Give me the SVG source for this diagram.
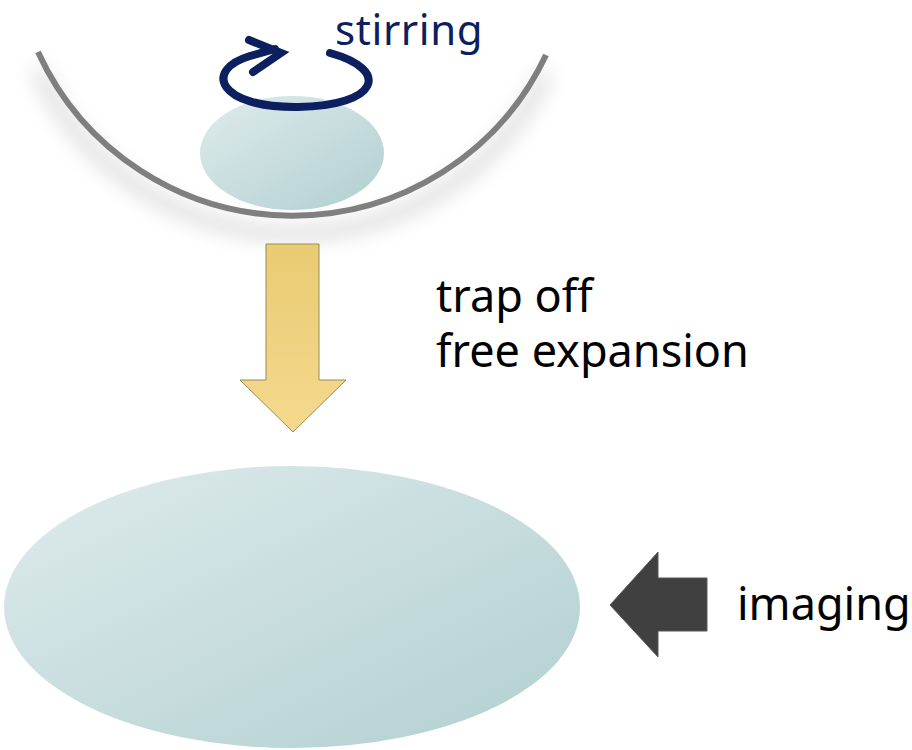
<svg xmlns="http://www.w3.org/2000/svg" width="912" height="750" viewBox="0 0 912 750">
<defs>
<style>
.lbl{font-family:"Noto Sans","Open Sans","Liberation Sans",sans-serif;font-size:45px;fill:#000}
.cloud{stroke:none}
</style>
<linearGradient id="gCloud" x1="0" y1="0" x2="1" y2="1">
<stop offset="0" stop-color="#dfebec"/>
<stop offset="1" stop-color="#b1cfd0"/>
</linearGradient>
<linearGradient id="gYel" x1="0" y1="0" x2="0" y2="1">
<stop offset="0" stop-color="#e9cb72"/>
<stop offset="1" stop-color="#f5d98e"/>
</linearGradient>
<filter id="blur" x="-20%" y="-20%" width="140%" height="160%">
<feGaussianBlur stdDeviation="10"/>
</filter>
</defs>
<g id="trap">
<path d="M38,56 A280,280 0 0 0 546,59" fill="none" stroke="#000" stroke-opacity="0.16" stroke-width="12" filter="url(#blur)" transform="translate(0,14)"/>
<path d="M38,52 A280,280 0 0 0 546,55" fill="none" stroke="#7f7f7f" stroke-width="6"/>
</g>
<g id="cloud-small">
<ellipse class="cloud" cx="292" cy="153" rx="92" ry="57" fill="url(#gCloud)"/>
</g>
<g id="stirring">
<path d="M330,53 C392,70 378,106 298,107 C218,108 203,70 250,56 L275,49" fill="none" stroke="#0c1f5e" stroke-width="8" stroke-linecap="round"/>
<path d="M249,40 L281,53 L253,72" fill="none" stroke="#0c1f5e" stroke-width="8" stroke-linecap="round" stroke-linejoin="miter"/>
<text x="335" y="45" style="font-family:'Noto Sans','Open Sans','Liberation Sans',sans-serif;font-size:42px;letter-spacing:0.6px;fill:#0c1f5e">stirring</text>
</g>
<g id="connectors">
<path d="M266,244 H319 V380 H346 L293,432 L240,380 H266 Z" fill="url(#gYel)" stroke="#9a8a5a" stroke-width="1"/>
<path d="M707,578 V631 H658 V657 L610,605 L658,552 V578 Z" fill="#404040" stroke="#595959" stroke-width="1"/>
</g>
<g id="label-trap">
<text class="lbl" x="436" y="312">trap off</text>
<text class="lbl" x="436" y="367">free expansion</text>
</g>
<g id="cloud-large">
<ellipse class="cloud" cx="292" cy="607" rx="288" ry="141" fill="url(#gCloud)"/>
</g>
<g id="imaging">
<text class="lbl" x="737" y="620">imaging</text>
</g>
</svg>
